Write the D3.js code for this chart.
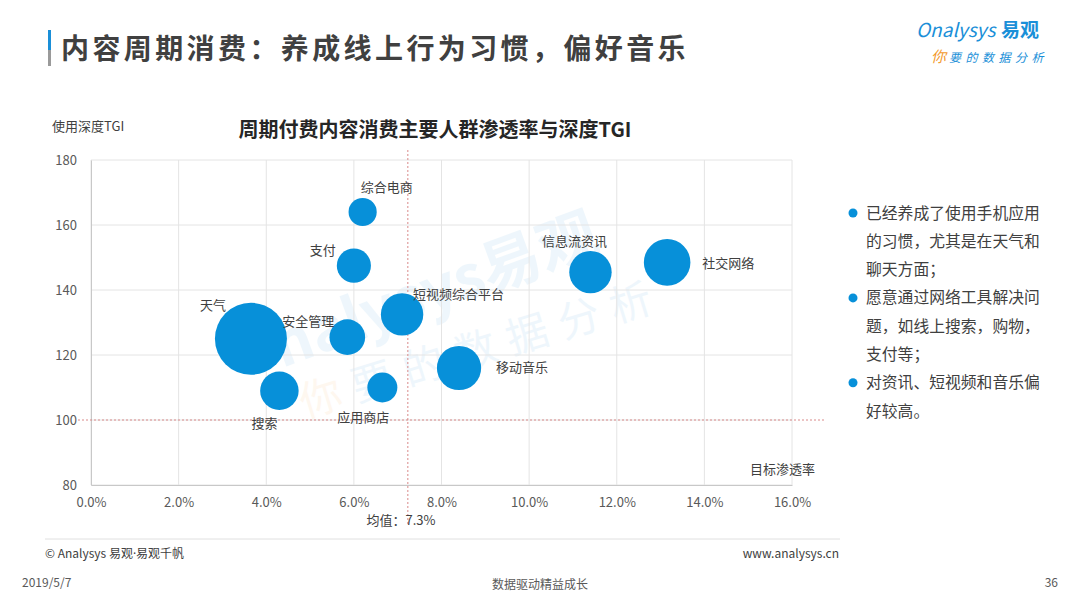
<!DOCTYPE html>
<html>
  <head>
    <meta charset="utf-8">
    <title>周期付费内容消费</title>
    <script src="https://cdnjs.cloudflare.com/ajax/libs/d3/7.8.5/d3.min.js"></script>
    <style>
      body { margin: 0; background: #fff; }
      text { font-family: "Noto Sans CJK SC", "Noto Sans", sans-serif; }
    </style>
  </head>
  <body>
    <div id="chart"></div>
    <script type="text/javascript">
      // data
      var names = ["综合电商", "支付", "天气", "安全管理", "短视频综合平台", "搜索", "应用商店", "移动音乐", "信息流资讯", "社交网络"];
      var penetration = [6.2, 6.0, 3.65, 5.85, 7.1, 4.3, 6.65, 8.4, 11.4, 13.15];   // 目标渗透率 %
      var tgi = [164, 147.5, 125, 125.5, 132.5, 109, 110, 116, 145.5, 148.5];       // 使用深度TGI
      var bubbleSize = [1.5, 2.2, 9.8, 2.4, 3.4, 2.8, 1.7, 3.7, 3.4, 4.1];
      var xTicks = [0, 2, 4, 6, 8, 10, 12, 14, 16];
      var yTicks = [80, 100, 120, 140, 160, 180];
      var meanPenetration = 7.3;
      var baseTGI = 100;
      var notes = [
        ["已经养成了使用手机应用", "的习惯，尤其是在天气和", "聊天方面；"],
        ["愿意通过网络工具解决问", "题，如线上搜索，购物，", "支付等；"],
        ["对资讯、短视频和音乐偏", "好较高。"]
      ];

      // label placement around each bubble: [dx, dy, anchor]
      var labelPos = {
        "综合电商": [-2, -25, "start"],
        "支付": [-18, -15, "end"],
        "天气": [-25, -33, "end"],
        "安全管理": [-13, -16, "end"],
        "短视频综合平台": [11, -20, "start"],
        "搜索": [-2, 33, "end"],
        "应用商店": [7, 30, "end"],
        "移动音乐": [37, -1, "start"],
        "信息流资讯": [-16, -31, "middle"],
        "社交网络": [35, 1, "start"]
      };

      var w = 1080, h = 607;
      var blue = "#0790d9";

      var svg = d3.select("#chart").append("svg")
        .attr("width", w)
        .attr("height", h);

      // page header
      svg.append("rect").attr("x", 48).attr("y", 30).attr("width", 3).attr("height", 20).attr("fill", "#1a8fd8");
      svg.append("rect").attr("x", 48).attr("y", 50).attr("width", 3).attr("height", 16).attr("fill", "#9a9a9a");
      svg.append("text").attr("x", 61).attr("y", 59)
        .attr("font-size", 28).attr("font-weight", "bold").attr("fill", "#404040")
        .attr("letter-spacing", 3.4)
        .text("内容周期消费：养成线上行为习惯，偏好音乐");

      // logo
      var logo = svg.append("g");
      logo.append("text").attr("x", 916).attr("y", 37)
        .attr("font-size", 19).attr("fill", "#1a8fd8").attr("font-style", "italic")
        .text("Onalysys");
      logo.append("text").attr("x", 1001).attr("y", 37)
        .attr("font-size", 19).attr("font-weight", "bold").attr("fill", "#1a8fd8")
        .text("易观");
      logo.append("text").attr("x", 931).attr("y", 62)
        .attr("font-size", 15).attr("fill", "#f39a2e").attr("font-style", "italic")
        .text("你");
      logo.append("text").attr("x", 949).attr("y", 62)
        .attr("font-size", 12).attr("fill", "#1a8fd8").attr("font-style", "italic").attr("letter-spacing", 4.5)
        .text("要的数据分析");

      // chart
      var x = d3.scaleLinear().domain([0, 16]).range([91, 792]);
      var y = d3.scaleLinear().domain([80, 180]).range([485, 160]);
      var r = d3.scaleSqrt().domain([0, d3.max(bubbleSize)]).range([0, 36]);

      // watermark
      var wm = svg.append("g").attr("opacity", 0.07);
      wm.append("text").attr("transform", "translate(282,368) rotate(-20)")
        .attr("font-size", 60).attr("font-weight", "bold").attr("fill", "#1a8fd8")
        .text("nalysys易观");
      var wm2 = wm.append("text").attr("transform", "translate(305,418) rotate(-17)")
        .attr("font-size", 42).attr("letter-spacing", 12);
      wm2.append("tspan").attr("fill", "#f39a2e").text("你");
      wm2.append("tspan").attr("fill", "#1a8fd8").text("要的数据分析");

      // grid
      svg.append("g").selectAll("line").data(xTicks).enter().append("line")
        .attr("x1", d => x(d)).attr("x2", d => x(d))
        .attr("y1", y(180)).attr("y2", y(80))
        .attr("stroke", "#e4e4e4");
      svg.append("g").selectAll("line").data(yTicks).enter().append("line")
        .attr("x1", x(0)).attr("x2", x(16))
        .attr("y1", d => y(d)).attr("y2", d => y(d))
        .attr("stroke", "#e4e4e4");

      // axes
      var xAxis = svg.append("g").attr("transform", "translate(0," + y(80) + ")")
        .call(d3.axisBottom(x).tickValues(xTicks).tickSize(0).tickPadding(13).tickFormat(d => d.toFixed(1) + "%"));
      var yAxis = svg.append("g").attr("transform", "translate(" + x(0) + ",0)")
        .call(d3.axisLeft(y).tickValues(yTicks).tickSize(0).tickPadding(14));
      [xAxis, yAxis].forEach(function(a) {
        a.select(".domain").attr("stroke", "#c8c8c8");
        a.selectAll("text").attr("font-size", 13).attr("fill", "#595959")
          .style("font-family", "'Noto Sans CJK SC', sans-serif");
      });

      // reference lines
      svg.append("line")
        .attr("x1", 78).attr("x2", 824)
        .attr("y1", y(baseTGI)).attr("y2", y(baseTGI))
        .attr("stroke", "#d98a8a").attr("stroke-width", 1).attr("stroke-dasharray", "2,2");
      svg.append("line")
        .attr("x1", x(meanPenetration) - 3).attr("x2", x(meanPenetration) - 3)
        .attr("y1", 150).attr("y2", 526)
        .attr("stroke", "#d98a8a").attr("stroke-width", 1).attr("stroke-dasharray", "2,2");

      // bubbles
      var pts = names.map(function(n, i) {
        return { name: n, px: penetration[i], tgi: tgi[i], size: bubbleSize[i] };
      });
      svg.append("g").selectAll("circle").data(pts).enter().append("circle")
        .attr("cx", d => x(d.px))
        .attr("cy", d => y(d.tgi))
        .attr("r", d => r(d.size))
        .attr("fill", blue);

      svg.append("g").selectAll("text").data(pts).enter().append("text")
        .attr("x", d => x(d.px) + labelPos[d.name][0])
        .attr("y", d => y(d.tgi) + labelPos[d.name][1])
        .attr("dy", "0.35em")
        .attr("text-anchor", d => labelPos[d.name][2])
        .attr("font-size", 13).attr("fill", "#404040")
        .text(d => d.name);

      // axis titles
      svg.append("text").attr("x", 52).attr("y", 131)
        .attr("font-size", 13).attr("fill", "#404040").text("使用深度TGI");
      svg.append("text").attr("x", 815).attr("y", 474).attr("text-anchor", "end")
        .attr("font-size", 13).attr("fill", "#404040").text("目标渗透率");
      svg.append("text").attr("x", 401).attr("y", 525).attr("text-anchor", "middle")
        .attr("font-size", 13).attr("fill", "#404040").text("均值：" + meanPenetration + "%");
      svg.append("text").attr("x", 435).attr("y", 137).attr("text-anchor", "middle")
        .attr("font-size", 20).attr("font-weight", "bold").attr("fill", "#262626")
        .text("周期付费内容消费主要人群渗透率与深度TGI");

      // notes on the right
      var lineY = 213;
      notes.forEach(function(lines) {
        svg.append("circle").attr("cx", 853).attr("cy", lineY).attr("r", 4.5).attr("fill", blue);
        lines.forEach(function(t) {
          svg.append("text").attr("x", 866).attr("y", lineY).attr("dy", "0.35em")
            .attr("font-size", 15.8).attr("fill", "#404040").text(t);
          lineY += 28.3;
        });
      });

      // footer
      svg.append("line").attr("x1", 45).attr("x2", 840).attr("y1", 539).attr("y2", 539)
        .attr("stroke", "#e0e0e0");
      var copy = svg.append("text").attr("x", 45).attr("y", 558)
        .attr("font-size", 12).attr("fill", "#404040");
      copy.append("tspan").text("© Analysys 易观");
      copy.append("tspan").style("font-family", "'Noto Sans', sans-serif").text("·");
      copy.append("tspan").text("易观千帆");
      svg.append("text").attr("x", 839).attr("y", 558).attr("text-anchor", "end")
        .attr("font-size", 12).attr("fill", "#404040").text("www.analysys.cn");
      svg.append("text").attr("x", 22).attr("y", 587)
        .attr("font-size", 12).attr("fill", "#595959").text("2019/5/7");
      svg.append("text").attr("x", 540).attr("y", 589).attr("text-anchor", "middle")
        .attr("font-size", 12).attr("fill", "#595959").text("数据驱动精益成长");
      svg.append("text").attr("x", 1058).attr("y", 587).attr("text-anchor", "end")
        .attr("font-size", 12).attr("fill", "#595959").text("36");
    </script>
  </body>
</html>
